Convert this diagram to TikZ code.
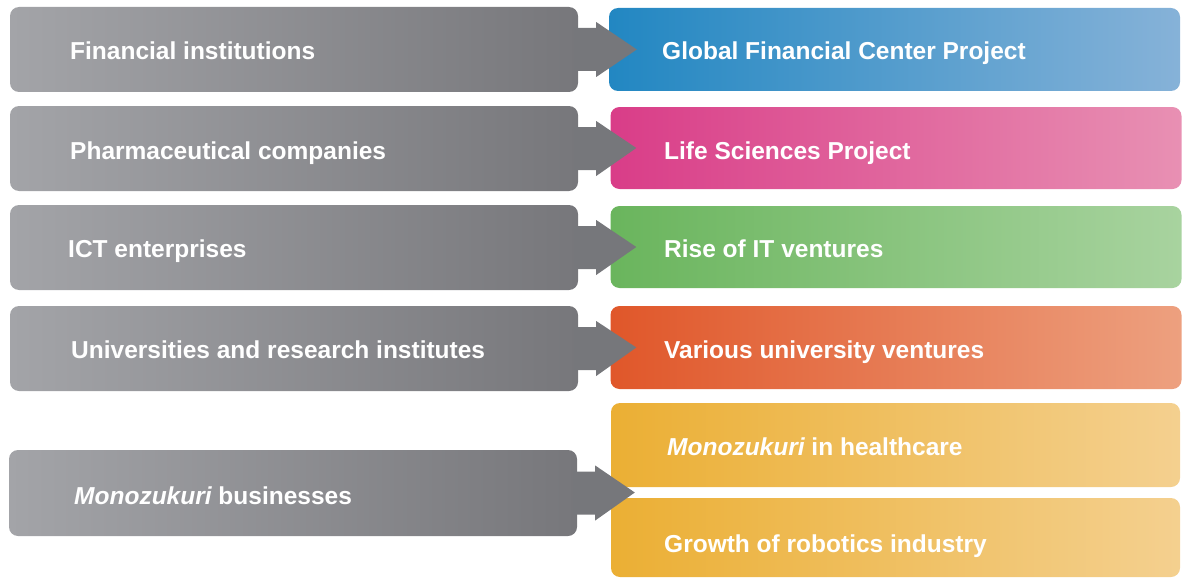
\documentclass[tikz,border=0pt]{standalone}
\usepackage{fontspec}
\setmainfont{Liberation Sans}
\usetikzlibrary{calc}
\definecolor{greyL}{HTML}{A3A4A8}
\definecolor{greyR}{HTML}{77777B}
\definecolor{arrowgrey}{HTML}{76777B}
\definecolor{blueL}{HTML}{2287C2}
\definecolor{blueR}{HTML}{86B2D8}
\definecolor{pinkL}{HTML}{D93D88}
\definecolor{pinkR}{HTML}{E890B3}
\definecolor{greenL}{HTML}{6AB55D}
\definecolor{greenR}{HTML}{A8D39F}
\definecolor{orangeL}{HTML}{E0572A}
\definecolor{orangeR}{HTML}{EDA07F}
\definecolor{yellowL}{HTML}{EBAF34}
\definecolor{yellowR}{HTML}{F4D08F}
\newcommand\joinarrow[3]{%
  \fill[arrowgrey] ($(#1.east)+(-4,-21.5)$) -- ($(#1.east)+(18,-21.5)$)
    -- ($(#1.east)+(18,-27.5)$) -- ($(#2)+(#3,0)$)
    -- ($(#1.east)+(18,27.5)$) -- ($(#1.east)+(18,21.5)$)
    -- ($(#1.east)+(-4,21.5)$) -- cycle;}
\begin{document}
\begin{tikzpicture}[x=1pt,y=-1pt,
  box/.style={rounded corners=9pt, inner sep=0pt, draw=none},
  lbox/.style={box, left color=greyL, right color=greyR, minimum width=568pt, minimum height=85pt},
  rbox/.style={box, minimum width=571pt, minimum height=83pt},
  txt/.style={anchor=base west, inner sep=0pt, text=white, font=\fontsize{24.5}{29}\selectfont\bfseries}]
\useasboundingbox (0,0) rectangle (1184,578);
\clip (0,0) rectangle (1184,578);
% left boxes
\node[lbox] (l1) at (294,49.5) {};
\node[lbox] (l2) at (294,148.5) {};
\node[lbox] (l3) at (294,247.5) {};
\node[lbox] (l4) at (294,348.5) {};
\node[lbox, minimum height=86pt] (l5) at (293,493) {};
% right boxes
\node[rbox, left color=blueL, right color=blueR] (r1) at (894.5,49.5) {};
\node[rbox, left color=pinkL, right color=pinkR, minimum height=82pt] (r2) at (896,148) {};
\node[rbox, left color=greenL, right color=greenR, minimum height=82pt] (r3) at (896,247) {};
\node[rbox, left color=orangeL, right color=orangeR] (r4) at (896,347.5) {};
\node[rbox, left color=yellowL, right color=yellowR, minimum width=569pt, minimum height=84pt] (r5a) at (895.5,445) {};
\node[rbox, left color=yellowL, right color=yellowR, minimum width=569pt, minimum height=79pt] (r5b) at (895.5,537.5) {};
\coordinate (gap) at ($(r5a.south west)!0.5!(r5b.north west)$);
% arrows
\joinarrow{l1}{r1.west}{28}
\joinarrow{l2}{r2.west}{26}
\joinarrow{l3}{r3.west}{26}
\joinarrow{l4}{r4.west}{26}
\joinarrow{l5}{gap}{24}
% texts
\node[txt] (t1) at (70,60) {Financial institutions};
\node[txt] (t2) at (70,159) {Pharmaceutical companies};
\node[txt] (t3) at (68,257) {ICT enterprises};
\node[txt] (t4) at (71,358) {Universities and research institutes};
\node[txt] (t5) at (74,504) {\itshape Monozukuri\upshape{} businesses};
\node[txt] (u1) at (662,60) {Global Financial Center Project};
\node[txt] (u2) at (664,159) {Life Sciences Project};
\node[txt] (u3) at (664,257) {Rise of IT ventures};
\node[txt] (u4) at (664,358) {Various university ventures};
\node[txt] (u5) at (667,455) {\itshape Monozukuri\upshape{} in healthcare};
\node[txt] (u6) at (664,552) {Growth of robotics industry};
\end{tikzpicture}
\end{document}
